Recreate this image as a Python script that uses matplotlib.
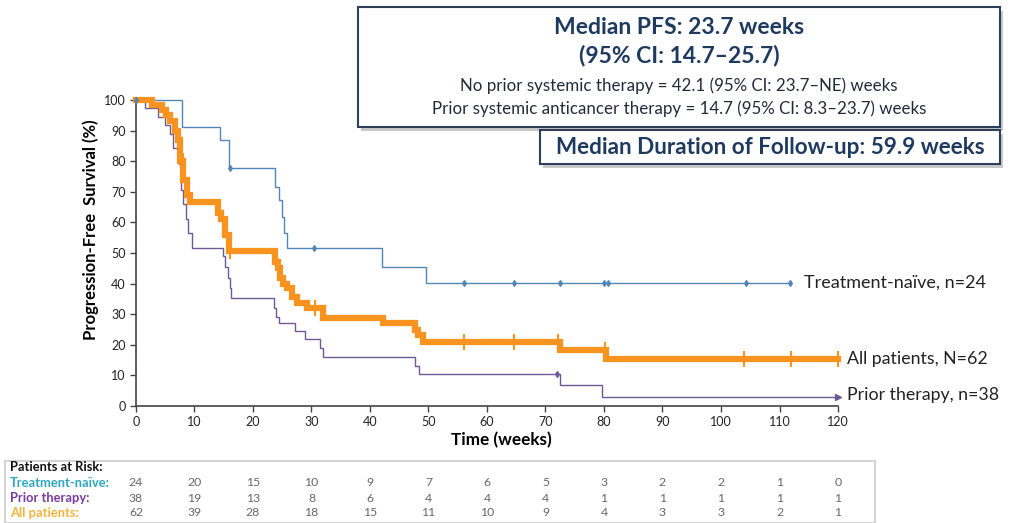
import matplotlib
matplotlib.use("Agg")
import matplotlib.pyplot as plt
from matplotlib.patches import Rectangle
import matplotlib.transforms as mtransforms

plt.rcParams['font.family'] = ['Lato', 'DejaVu Sans']

# ---------------- data ----------------
naive_t = [0, 7.9, 14.4, 15.9, 23.8, 24.4, 24.9, 25.3, 25.9, 42.0, 49.6]
naive_s = [100, 91.3, 87.0, 77.8, 71.7, 67.3, 61.9, 56.5, 51.6, 45.4, 40.2]
naive_end = 111.8
naive_cens_t = [0, 16.0, 30.4, 56.0, 64.6, 72.4, 80.0, 80.6, 104.2, 111.8]

prior_t = [0, 1.5, 3.8, 5.0, 5.8, 6.4, 7.4, 7.7, 8.1, 8.5, 8.9, 9.5, 14.8, 15.3, 15.7, 16.0, 16.3,
           23.6, 24.0, 24.5, 27.2, 28.9, 31.4, 32.0, 47.7, 48.3, 72.5, 79.7]
prior_s = [100, 97.4, 94.5, 92.0, 89.0, 84.3, 79.0, 70.6, 66.0, 61.0, 56.5, 51.6, 49.0, 45.5, 42.0, 38.7, 35.3,
           32.0, 29.0, 27.0, 24.5, 22.0, 19.0, 16.1, 13.0, 10.4, 6.9, 3.0]
prior_end = 120
prior_cens_t = [72.0]

all_t = [0, 2.7, 4.4, 5.2, 5.8, 6.7, 7.2, 7.5, 8.1, 8.7, 9.2, 14.1, 14.6, 15.3, 15.9,
         23.8, 24.2, 24.6, 25.2, 25.8, 26.7, 27.5, 29.2, 32.0, 42.2, 47.7, 48.2, 49.1, 72.5, 80.3]
all_s = [100, 98.4, 96.8, 95.0, 93.0, 90.0, 87.0, 80.0, 74.0, 69.0, 66.8, 63.0, 61.0, 56.0, 50.7,
         47.0, 45.0, 42.0, 40.0, 38.5, 35.6, 33.6, 32.0, 28.8, 27.0, 24.8, 23.2, 21.0, 18.3, 15.3]
all_end = 120
all_cens_t = [8.0, 16.0, 30.6, 56.0, 64.6, 72.2, 80.1, 104.0, 112.0, 120.0]

risk_times = [0, 10, 20, 30, 40, 50, 60, 70, 80, 90, 100, 110, 120]
risk_naive = [24, 20, 15, 10, 9, 7, 6, 5, 3, 2, 2, 1, 0]
risk_prior = [38, 19, 13, 8, 6, 4, 4, 4, 1, 1, 1, 1, 1]
risk_all = [62, 39, 28, 18, 15, 11, 10, 9, 4, 3, 3, 2, 1]

C_NAIVE = "#5285b5"
C_PRIOR = "#6c5a96"
C_ALL = "#f7931e"
NAVY = "#1f3a5f"


def surv_at(ts, ss, t):
    v = ss[0]
    for ti, si in zip(ts, ss):
        if ti <= t:
            v = si
    return v


fig = plt.figure(figsize=(10.30, 5.23), dpi=100)
ax = fig.add_axes([0.132, 0.2237, 0.6816, 0.585])


def km(ts, ss, end, color, lw, z):
    xs = list(ts) + [end]
    ys = list(ss) + [ss[-1]]
    ax.step(xs, ys, where='post', color=color, lw=lw, zorder=z, clip_on=False,
            solid_joinstyle='miter')


km(naive_t, naive_s, naive_end, C_NAIVE, 1.0, 3)
km(prior_t, prior_s, prior_end, C_PRIOR, 1.0, 3)
km(all_t, all_s, all_end, C_ALL, 4.5, 4)

ax.plot(naive_cens_t, [surv_at(naive_t, naive_s, t) for t in naive_cens_t], ls='none',
        marker='d', ms=3, color=C_NAIVE, zorder=5, clip_on=False)
ax.plot(prior_cens_t, [surv_at(prior_t, prior_s, t) for t in prior_cens_t], ls='none',
        marker='d', ms=3, color=C_PRIOR, zorder=5, clip_on=False)
ax.plot(all_cens_t, [surv_at(all_t, all_s, t) for t in all_cens_t], ls='none',
        marker='|', ms=12, mew=1.5, color=C_ALL, zorder=5, clip_on=False)
ax.plot([prior_end], [prior_s[-1]], ls='none', marker='>', ms=4, color=C_PRIOR, zorder=5, clip_on=False)

ax.set_xlim(0, 120)
ax.set_ylim(0, 100)
ax.set_xticks(range(0, 121, 10))
ax.set_yticks(range(0, 101, 10))
for s in ['top', 'right']:
    ax.spines[s].set_visible(False)
for s in ['left', 'bottom']:
    ax.spines[s].set_color('#444444')
    ax.spines[s].set_linewidth(1.2)
ax.tick_params(axis='both', colors='#444444', labelcolor='#222222', labelsize=9, length=4, width=1)
ax.set_xlabel('Time (weeks)', fontsize=12.3, fontweight='bold')
ax.set_ylabel('Progression-Free  Survival (%)', fontsize=12, fontweight='bold')
ax.xaxis.set_label_coords(0.52, -0.085)
ax.yaxis.set_label_coords(-0.053, 0.575)

# curve labels
ax.text(114.2, naive_s[-1], 'Treatment-naïve, n=24', fontsize=13, va='center', ha='left',
        color='#222222', clip_on=False)
ax.text(121.5, all_s[-1], 'All patients, N=62', fontsize=12.8, va='center', ha='left',
        color='#222222', clip_on=False)
ax.text(121.5, prior_s[-1] + 0.5, 'Prior therapy, n=38', fontsize=12.8, va='center', ha='left',
        color='#222222', clip_on=False)

# boxes with shadow
W, H = 1030, 523


def fbox(x0, y0, x1, y1):
    # pixel coords, y from top
    sh = Rectangle((x0 / W + 0.003, 1 - (y1 + 4) / H), (x1 - x0) / W, (y1 - y0) / H,
                   transform=fig.transFigure, facecolor='#c8c8c8', edgecolor='none', zorder=9)
    fig.add_artist(sh)
    r = Rectangle((x0 / W, 1 - y1 / H), (x1 - x0) / W, (y1 - y0) / H,
                  transform=fig.transFigure, facecolor='white', edgecolor='#2e3f5c', lw=1.5, zorder=10)
    fig.add_artist(r)


fbox(358, 7, 1000, 127)
fbox(540, 130, 1000, 164)

cx = 679 / W
fig.text(cx, 1 - 27 / H, 'Median PFS: 23.7 weeks', fontsize=16.5, fontweight='bold', color=NAVY,
         ha='center', va='center', zorder=11)
fig.text(cx, 1 - 56 / H, '(95% CI: 14.7–25.7)', fontsize=16.5, fontweight='bold', color=NAVY,
         ha='center', va='center', zorder=11)
fig.text(cx, 1 - 86 / H, 'No prior systemic therapy = 42.1 (95% CI: 23.7–NE) weeks', fontsize=12.2,
         color='#222a3a', ha='center', va='center', zorder=11)
fig.text(cx, 1 - 109 / H, 'Prior systemic anticancer therapy = 14.7 (95% CI: 8.3–23.7) weeks', fontsize=12.2,
         color='#222a3a', ha='center', va='center', zorder=11)
fig.text(770 / W, 1 - 147 / H, 'Median Duration of Follow-up: 59.9 weeks', fontsize=16.2, fontweight='bold',
         color=NAVY, ha='center', va='center', zorder=11)

# risk table
tr = Rectangle((5 / W, 0.0), (875 - 5) / W, (523 - 461) / H, transform=fig.transFigure,
               facecolor='white', edgecolor='#cccccc', lw=1.2, zorder=1)
fig.add_artist(tr)
blend = mtransforms.blended_transform_factory(ax.transData, fig.transFigure)
rows = [(risk_naive, 'Treatment-naïve:', '#2ea6c0', 483),
        (risk_prior, 'Prior therapy:', '#7a3aa0', 498),
        (risk_all, 'All patients:', '#f5b33c', 513)]
fig.text(10 / W, 1 - 467 / H, 'Patients at Risk:', fontsize=9.3, fontweight='bold', color='#111111',
         ha='left', va='center')
for vals, lab, col, yp in rows:
    fig.text(10 / W, 1 - yp / H, lab, fontsize=9.3, fontweight='bold', color=col, ha='left', va='center')
    for t, v in zip(risk_times, vals):
        fig.text(t, 1 - yp / H, str(v), transform=blend, fontsize=8.8, color='#666666',
                 ha='center', va='center')

fig.savefig('out.png', dpi=100)
